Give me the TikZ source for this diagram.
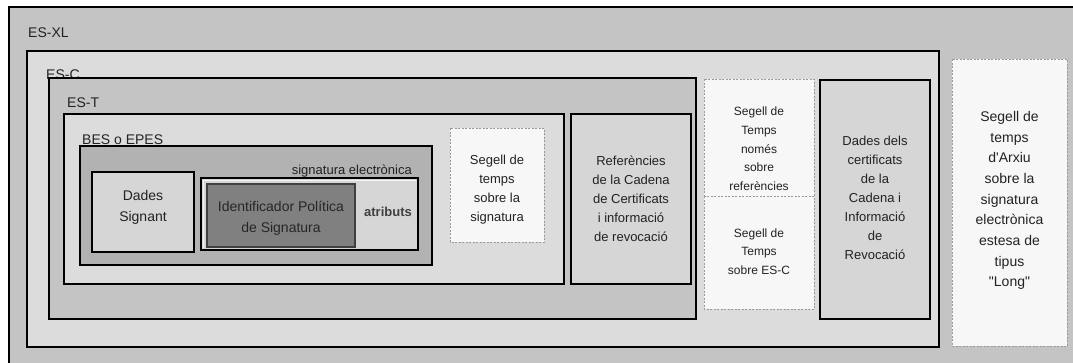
\documentclass[tikz,border=0pt]{standalone}
\usepackage{fontspec}
\setmainfont{Liberation Sans}[Ligatures=TeXOff]
\definecolor{midgrey}{HTML}{C4C4C4}
\definecolor{lightgrey}{HTML}{DCDCDC}
\definecolor{sigfill}{HTML}{B2B2B2}
\definecolor{cellfill}{HTML}{D6D6D6}
\definecolor{identfill}{HTML}{808080}
\definecolor{stampfill}{HTML}{F7F7F7}
\definecolor{stampline}{HTML}{9A9A9A}
\definecolor{ink}{HTML}{222222}
\newcommand{\lab}{\fontsize{14}{20}\selectfont}
\newcommand{\txt}{\fontsize{13}{19}\selectfont}

\begin{document}
\begin{tikzpicture}[x=1pt, y=-1pt,
  level1/.style={line width=2pt, draw=black, fill=midgrey},
  level2/.style={line width=2pt, draw=black, fill=lightgrey},
  sigbox/.style={line width=2pt, draw=black, fill=sigfill},
  cell/.style={line width=2pt, draw=black, fill=cellfill},
  attrbox/.style={line width=2pt, draw=black, fill=cellfill},
  identbox/.style={line width=1.5pt, draw=black!75, fill=identfill},
  stamp/.style={line width=1pt, draw=stampline, dash pattern=on 2pt off 1.5pt, fill=stampfill},
  tag/.style={anchor=west, inner sep=0pt, text=ink, font=\lab},
  boxtext/.style={align=center, inner sep=0pt, text=ink, font=\txt}]
  \useasboundingbox (0,0) rectangle (1073,362);
  \clip (0,0) rectangle (1073,362);
  \fill[white] (0,0) rectangle (1073,362);

  \draw[level1] (9,7) rectangle (1090,380);
  \node[tag] (esxl) at (28,33) {ES-XL};
  \draw[level2] (27,51) rectangle (939,347);
  \node[tag] (esc) at (46,75) {ES-C};
  \draw[level1] (49,78) rectangle (696,319);
  \node[tag] (est) at (67,103) {ES-T};
  \draw[level2] (64,114) rectangle (564,284);
  \node[tag] (bes) at (82,140) {BES o EPES};

  % signatura electronica
  \draw[sigbox] (80,146) rectangle (432,265);
  \node[tag, anchor=east, font=\txt] (sigel) at (412,171) {signatura electrònica};
  \draw[cell] (92,172) rectangle (194,252);
  \node[boxtext, font=\fontsize{14}{21}\selectfont] (signant) at (143,207.5) {Dades\\Signant};
  \draw[attrbox] (201,178) rectangle (418,250);
  \draw[white!70!cellfill, line width=1pt] (203.5,248) -- (203.5,180.5) -- (416,180.5);
  \draw[identbox] (207,184) rectangle (355,247);
  \node[boxtext, font=\fontsize{14}{21}\selectfont, text=black!85] (ident) at (281,218.5) {Identificador Política\\de Signatura};
  \node[boxtext, font=\bfseries\fontsize{13}{19}\selectfont, text=black!75] (atributs) at (388,212) {atributs};

  \draw[stamp] (450,128) rectangle (544,242);
  \node[boxtext] (tssig) at (497,189.5) {Segell de\\temps\\sobre la\\signatura};
  \draw[cell] (571,114) rectangle (691,284);
  \node[boxtext] (refs) at (631,198.5) {Referències\\de la Cadena\\de Certificats\\i informació\\de revocació};

  % segells ES-C i ES-X
  \draw[stamp] (704,79) rectangle (814,196);
  \node[boxtext, font=\fontsize{12}{18.7}\selectfont] (tsrefs) at (759,149) {Segell de\\Temps\\només\\sobre\\referències};
  \draw[stamp] (704,196) rectangle (814,309);
  \node[boxtext, font=\fontsize{12}{18.7}\selectfont] (tsesc) at (759,251.5) {Segell de\\Temps\\sobre ES-C};
  \draw[cell] (820,80) rectangle (930,319);
  \node[boxtext] (certs) at (875,198) {Dades dels\\certificats\\de la\\Cadena i\\Informació\\de\\Revocació};

  \draw[stamp] (952,59) rectangle (1067,346);
  \node[boxtext, font=\fontsize{14}{20.7}\selectfont] (tsarxiu) at (1009.5,200.5) {Segell de\\temps\\d'Arxiu\\sobre la\\signatura\\electrònica\\estesa de\\tipus\\"Long"};
\end{tikzpicture}
\end{document}
